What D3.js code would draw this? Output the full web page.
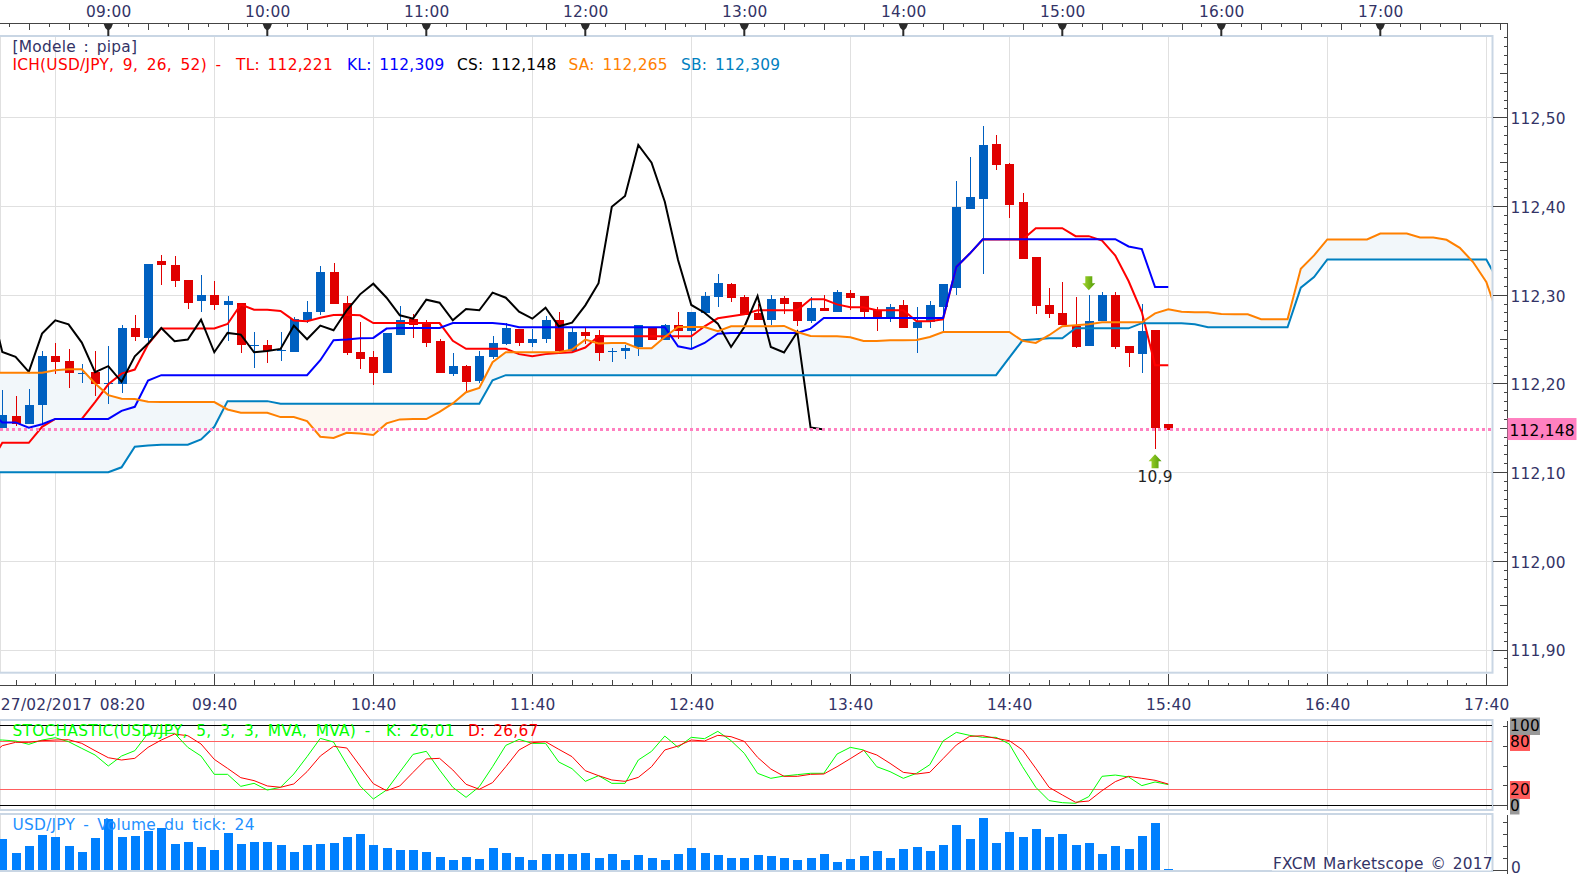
<!DOCTYPE html>
<html>
<head>
<meta charset="utf-8">
<script src="https://cdn.jsdelivr.net/npm/d3@7"></script>
<style>
html, body { margin: 0; padding: 0; background: #fff; overflow: hidden; }
text { font-family: "DejaVu Sans", sans-serif; font-size: 15.4px; letter-spacing: 0.25px; word-spacing: 2.5px; }
</style>
</head>
<body>
<script>
// USD/JPY m5 27/02/2017
var candleOpen = [
112.150,112.163,112.154,112.176,112.231,112.225,112.2115,112.2126,112.199,112.1995,
112.262,112.251,112.3375,112.334,112.317,112.2925,112.300,112.288,112.291,112.2425,
112.243,112.2365,112.235,112.272,112.280,112.326,112.291,112.235,112.2295,112.2115,
112.255,112.273,112.268,112.2475,112.2104,112.2194,112.2025,112.2295,112.244,112.261,
112.245,112.250,112.272,112.236,112.2576,112.255,112.235,112.2366,112.2408,112.262,
112.2486,112.2655,112.2588,112.279,112.297,112.3116,112.297,112.279,112.272,112.296,
112.2914,112.270,112.2846,112.280,112.3015,112.298,112.2824,112.2734,112.288,112.263,
112.269,112.2858,112.308,112.397,112.4084,112.470,112.4478,112.404,112.342,112.288,
112.279,112.2644,112.2419,112.270,112.2993,112.2419,112.233,112.260,112.154];
var candleHigh = [
112.192,112.186,112.194,112.236,112.246,112.2385,112.2216,112.237,112.242,112.2655,
112.277,112.335,112.345,112.344,112.317,112.322,112.316,112.298,112.291,112.2575,
112.2486,112.2575,112.2745,112.2925,112.332,112.336,112.298,112.269,112.236,112.2565,
112.287,112.2786,112.272,112.250,112.234,112.2205,112.237,112.254,112.268,112.261,
112.261,112.2756,112.281,112.263,112.262,112.260,112.2396,112.243,112.2655,112.262,
112.2666,112.281,112.281,112.3026,112.323,112.3128,112.300,112.290,112.300,112.298,
112.2914,112.297,112.300,112.305,112.305,112.298,112.2858,112.290,112.2936,112.2858,
112.2925,112.3116,112.4286,112.4556,112.4905,112.480,112.449,112.415,112.342,112.308,
112.314,112.297,112.2993,112.3026,112.3026,112.2419,112.290,112.260,112.154];
var candleLow = [
112.148,112.152,112.154,112.153,112.211,112.195,112.200,112.186,112.177,112.189,
112.2475,112.245,112.3105,112.309,112.2835,112.280,112.2825,112.2475,112.234,112.217,
112.2228,112.225,112.235,112.268,112.277,112.290,112.232,112.216,112.198,112.2115,
112.255,112.251,112.241,112.2115,112.208,112.190,112.200,112.227,112.243,112.242,
112.2408,112.245,112.234,112.234,112.244,112.225,112.224,112.227,112.2306,112.2486,
112.2486,112.250,112.2385,112.279,112.2858,112.2914,112.2768,112.272,112.2655,112.278,
112.2644,112.2678,112.2813,112.280,112.2824,112.2734,112.2588,112.269,112.262,112.234,
112.263,112.2576,112.300,112.397,112.323,112.441,112.386,112.340,112.278,112.2734,
112.2655,112.240,112.2419,112.270,112.2385,112.2183,112.2115,112.126,112.1475];
var candleClose = [
112.164,112.154,112.176,112.231,112.224,112.2115,112.212,112.199,112.201,112.263,
112.252,112.335,112.334,112.316,112.291,112.300,112.288,112.2925,112.243,112.243,
112.236,112.2375,112.273,112.280,112.326,112.290,112.234,112.227,112.2115,112.2565,
112.271,112.2655,112.246,112.2115,112.2194,112.2014,112.2306,112.245,112.262,112.246,
112.250,112.272,112.236,112.2576,112.253,112.234,112.2365,112.2396,112.2655,112.2486,
112.2655,112.2588,112.281,112.299,112.313,112.296,112.2768,112.272,112.2948,112.289,
112.270,112.2846,112.2813,112.3026,112.296,112.280,112.2734,112.2858,112.263,112.269,
112.288,112.3116,112.3994,112.4106,112.469,112.4466,112.4016,112.340,112.287,112.278,
112.2655,112.2408,112.270,112.2993,112.2408,112.234,112.2588,112.1496,112.148];

// ichimoku lines start one bar before the first candle (08:15)
var tenkan = [112.107,
112.133,112.133,112.133,112.151,112.16,112.16,112.16,112.179,112.199,112.211,
112.2156,112.244,112.262,112.262,112.262,112.262,112.262,112.267,112.289,112.283,
112.283,112.2816,112.271,112.27,112.274,112.277,112.2775,112.2768,112.268,112.268,
112.268,112.268,112.268,112.268,112.248,112.239,112.239,112.239,112.239,112.233,
112.2306,112.233,112.2344,112.235,112.2404,112.2531,112.2531,112.2531,112.2531,112.2531,
112.2531,112.2531,112.2531,112.2644,112.2734,112.2756,112.278,112.2824,112.2824,112.2824,
112.2824,112.2948,112.2948,112.2891,112.2858,112.2858,112.2824,112.2824,112.2824,112.27,
112.27,112.2722,112.3311,112.3461,112.3622,112.3622,112.3622,112.3622,112.375,112.375,
112.375,112.366,112.366,112.3611,112.3442,112.3154,112.2805,112.2205,112.2205];
var kijun = [112.17,
112.156,112.156,112.15,112.154,112.16,112.16,112.16,112.16,112.16,112.169,
112.1736,112.2033,112.2093,112.2093,112.2093,112.2093,112.2093,112.2093,112.2093,112.2093,
112.2093,112.2093,112.2093,112.2093,112.2261,112.2486,112.2494,112.2509,112.2513,112.2618,
112.2625,112.2625,112.2625,112.2625,112.268,112.268,112.268,112.268,112.2666,112.2633,
112.2633,112.2633,112.2633,112.2633,112.2633,112.2633,112.2633,112.2633,112.2633,112.2633,
112.2633,112.2419,112.2389,112.2456,112.2561,112.2569,112.2569,112.2569,112.2569,112.2569,
112.2569,112.2618,112.2738,112.2738,112.2738,112.2738,112.2738,112.2738,112.2738,112.2738,
112.2738,112.2738,112.3311,112.3461,112.3626,112.3626,112.3626,112.3626,112.3626,112.3626,
112.3626,112.3626,112.3626,112.3626,112.3626,112.3544,112.3514,112.3086,112.3086];
var chikou = [112.2955,
112.2355,112.2299,112.213,112.2561,112.2711,112.2666,112.246,112.2126,112.2194,112.2018,
112.2306,112.2449,112.2625,112.2475,112.2494,112.2719,112.2351,112.2569,112.255,112.2351,
112.2366,112.2389,112.2651,112.2498,112.2651,112.2599,112.2824,112.3004,112.3124,112.2966,
112.2768,112.273,112.2944,112.291,112.2711,112.2839,112.2824,112.3023,112.2966,112.2809,
112.273,112.2854,112.2644,112.2685,112.288,112.3129,112.3992,112.4113,112.4688,112.4489,
112.4049,112.3391,112.2884,112.2797,112.2674,112.2411,112.2636,112.2985,112.2411,112.2348,
112.258,112.1504,112.148];
var spanA = [112.2119,
112.2119,112.2119,112.2119,112.2119,112.2149,112.216,112.216,112.1999,112.1868,112.1826,
112.1823,112.1793,112.1789,112.1789,112.1789,112.1789,112.1789,112.1706,112.1669,112.1669,
112.1669,112.162,112.162,112.1575,112.1399,112.1384,112.1444,112.1436,112.1418,112.1549,
112.1594,112.1598,112.1598,112.168,112.1774,112.1901,112.195,112.2239,112.2351,112.2351,
112.2351,112.2351,112.2351,112.2381,112.2494,112.2449,112.2456,112.2456,112.2396,112.2396,
112.2524,112.2636,112.2636,112.2636,112.2588,112.2644,112.2644,112.2644,112.2644,112.2648,
112.258,112.2535,112.2531,112.2531,112.252,112.2479,112.2479,112.2486,112.2486,112.249,
112.2524,112.258,112.258,112.258,112.258,112.258,112.258,112.2479,112.2456,112.2543,
112.2644,112.2655,112.2666,112.2689,112.2689,112.2689,112.2689,112.279,112.2835,112.2809,
112.2801,112.2801,112.2783,112.2779,112.2779,112.2723,112.2723,112.2723,112.3293,112.3443,
112.3623,112.3623,112.3623,112.3623,112.369,112.369,112.369,112.3645,112.3645,112.3619,
112.3529,112.3368,112.3143,112.2711];
var spanB = [112.0998,
112.0998,112.0998,112.0998,112.0998,112.0998,112.0998,112.0998,112.0998,112.0998,112.1054,
112.1286,112.1301,112.1309,112.1309,112.1309,112.1369,112.1511,112.18,112.18,112.18,
112.18,112.177,112.177,112.177,112.177,112.177,112.177,112.177,112.177,112.177,
112.177,112.177,112.177,112.177,112.177,112.177,112.177,112.2036,112.2093,112.2093,
112.2093,112.2093,112.2093,112.2093,112.2093,112.2093,112.2093,112.2093,112.2093,112.2093,
112.2093,112.2093,112.2093,112.2093,112.2093,112.2093,112.2093,112.2093,112.2093,112.2093,
112.2093,112.2093,112.2093,112.2093,112.2093,112.2093,112.2093,112.2093,112.2093,112.2093,
112.2093,112.2093,112.2093,112.2093,112.2093,112.2093,112.2291,112.2486,112.2498,112.2509,
112.2509,112.2621,112.2621,112.2621,112.2621,112.2621,112.2679,112.2679,112.2679,112.2679,
112.2666,112.2633,112.2633,112.2633,112.2633,112.2633,112.2633,112.2633,112.3079,112.3199,
112.3398,112.3398,112.3398,112.3398,112.3398,112.3398,112.3398,112.3398,112.3398,112.3398,
112.3398,112.3398,112.3398,112.3124];

// stochastic, same offset as the ichimoku lines
var stochK = [82,
82,80.8,76.6,82,84.9,79.9,71.5,63.2,49.4,61.9,
68.6,90.4,90.4,90.4,72.8,61.9,38.9,38.9,23.8,27.6,
19.2,22.6,39.3,61.1,84.1,79.5,51.5,24.3,7.9,19.2,
41.8,64,67.8,44.4,22.6,10,23.4,48.5,75.3,82.8,
77.8,77.8,54.4,46,30.1,37.2,27.6,27.6,56.9,67.8,
87,72.8,85.4,83.7,92.9,81.2,65.3,40.2,33.9,36.8,
38.5,40.2,40.2,64.4,72.8,69.5,48.5,42.3,33.9,40.2,
51,80.8,91.6,87.9,85.4,85.4,77,48.5,22.6,5.9,
3.3,2.5,10.9,36.4,38,35.6,24.7,29.3,26.01];
var stochD = [61,
74.9,79.1,79.1,81.2,82,82.4,77.8,68.6,59.8,56.9,
59,72.8,82,89.5,87.4,77,57.7,46.4,34.7,31,
24.3,22.6,26.8,42.3,61.9,74.1,72,49.4,27.2,18.4,
24.3,41.4,58.2,59,44.4,26.4,20.1,28.5,48.5,69.5,
78.7,79.9,70.3,61.1,43.5,37.2,31.8,30.1,35.1,48.5,
69.5,74.5,82,80.8,87.9,86.2,80.3,60.3,45.6,36.4,
36.4,38.9,39.3,48.5,58.6,69,63.2,52.7,41.4,39.3,
41.4,58.6,75.7,86.6,87.4,84.1,81.2,69.5,46.4,22.6,
13,3.8,5.4,18.4,29.7,36.4,33.9,31.4,26.67];
var tickVolume = [
775,425,600,875,825,600,450,800,1275,825,
850,975,1050,650,700,575,500,925,650,700,
700,625,450,625,650,675,825,900,625,550,
500,500,450,325,250,325,275,550,425,325,
250,400,400,400,425,300,400,250,375,300,
250,400,550,425,375,300,300,375,350,300,
250,300,400,200,275,350,475,300,525,575,
475,625,1125,775,1300,675,950,825,1025,825,
900,625,675,400,600,525,850,1175,24];

var priceTicks = [112.5,112.4,112.3,112.2,112.1,112.0,111.9];
var stochLevels = [100,80,20,0];
var lastPrice = 112.148;

var w = 1589, h = 874;
var frameRight = 1492.5, axisRight = 1507.5;

var svg = d3.select("body").append("svg").attr("width", w).attr("height", h);

var t0 = new Date(2017, 1, 27, 8, 20);
function barTime(i) { return d3.timeMinute.offset(t0, 5 * i); }
function at(hour, minute) { return new Date(2017, 1, 27, hour, minute); }

var x = d3.scaleTime().domain([t0, at(17, 40)]).range([2.3, 1486.3]);
var y = d3.scaleLinear().domain([111.9, 112.5]).range([649.5, 117.3]);
var yStoch = d3.scaleLinear().domain([0, 100]).range([805.3, 725.7]);
var yVol = d3.scaleLinear().domain([0, 1300]).range([870, 818]);

var frToFixed = function(n, p) { return d3.format("." + p + "f")(n).replace(".", ","); };

var defs = svg.append("defs");
defs.append("clipPath").attr("id", "plot").append("rect")
    .attr("x", 0).attr("y", 36).attr("width", frameRight - 1).attr("height", 637);
var grad = defs.append("linearGradient").attr("id", "arrowGreen").attr("x1", 0).attr("x2", 1).attr("y1", 0).attr("y2", 0);
grad.append("stop").attr("offset", "0%").attr("stop-color", "#a8d830");
grad.append("stop").attr("offset", "100%").attr("stop-color", "#4e9a06");

// grid
var hourly = d3.range(0, 10).map(function(k) { return at(8 + k, 40); });
var gridColor = "#e0e0e0";
var grid = svg.append("g").attr("shape-rendering", "crispEdges").attr("stroke", gridColor);
[[37, 672], [721, 809], [815, 870]].forEach(function(span) {
    grid.append("g").selectAll("line").data(hourly).join("line")
        .attr("x1", function(d) { return Math.round(x(d)) + 0.5; })
        .attr("x2", function(d) { return Math.round(x(d)) + 0.5; })
        .attr("y1", span[0]).attr("y2", span[1]);
    grid.append("line").attr("x1", 0.5).attr("x2", 0.5).attr("y1", span[0]).attr("y2", span[1]);
});
grid.append("g").selectAll("line").data(priceTicks).join("line")
    .attr("x1", 0).attr("x2", frameRight)
    .attr("y1", function(d) { return Math.round(y(d)) + 0.5; })
    .attr("y2", function(d) { return Math.round(y(d)) + 0.5; });

// cloud
var plot = svg.append("g").attr("clip-path", "url(#plot)");
var lineX = function(d, i) { return x(barTime(i - 1)); };
var cloudData = spanA.map(function(a, i) { return { a: a, b: spanB[i] }; });
plot.append("path").datum(cloudData).attr("fill", "#f2f7fa")
    .attr("d", d3.area().x(lineX)
        .y0(function(d) { return y(d.b); })
        .y1(function(d) { return y(Math.max(d.a, d.b)); }));
plot.append("path").datum(cloudData).attr("fill", "#fdf7f0")
    .attr("d", d3.area().x(lineX)
        .y0(function(d) { return y(d.b); })
        .y1(function(d) { return y(Math.min(d.a, d.b)); }));

// candles
var upColor = "#0060c0", downColor = "#e00000";
var bars = candleOpen.map(function(o, i) {
    return { i: i, o: o, h: candleHigh[i], l: candleLow[i], c: candleClose[i] };
});
var candles = plot.append("g").attr("shape-rendering", "crispEdges");
candles.selectAll("line").data(bars).join("line")
    .attr("x1", function(d) { return Math.round(x(barTime(d.i))) + 0.5; })
    .attr("x2", function(d) { return Math.round(x(barTime(d.i))) + 0.5; })
    .attr("y1", function(d) { return y(d.h); })
    .attr("y2", function(d) { return y(d.l); })
    .attr("stroke", function(d) { return d.c >= d.o ? upColor : downColor; });
candles.selectAll("rect").data(bars).join("rect")
    .attr("x", function(d) { return Math.round(x(barTime(d.i))) - 4; })
    .attr("width", 9)
    .attr("y", function(d) { return y(Math.max(d.o, d.c)); })
    .attr("height", function(d) { return Math.max(1, Math.abs(y(d.o) - y(d.c))); })
    .attr("fill", function(d) { return d.c >= d.o ? upColor : downColor; });

// ichimoku
var priceLine = d3.line().x(lineX).y(function(d) { return y(d); });
[[tenkan, "#ff0000"], [kijun, "#0000ff"], [chikou, "#000000"], [spanB, "#0080c0"], [spanA, "#ff8000"]].forEach(function(s) {
    plot.append("path").datum(s[0]).attr("fill", "none")
        .attr("stroke", s[1]).attr("stroke-width", 2).attr("d", priceLine);
});
plot.append("line").attr("x1", 0).attr("x2", frameRight)
    .attr("y1", y(lastPrice)).attr("y2", y(lastPrice))
    .attr("stroke", "#ff80c0").attr("stroke-width", 3).attr("stroke-dasharray", "3,3");

// signal arrows
var downArrow = "M-3.5,0H3.5V7H6.5L0,14L-6.5,7H-3.5Z";
var upArrow = "M-3.5,14H3.5V7H6.5L0,0L-6.5,7H-3.5Z";
plot.append("path").attr("d", downArrow).attr("fill", "url(#arrowGreen)")
    .attr("transform", "translate(" + x(barTime(82)) + "," + (y(112.305) - 14) + ")");
plot.append("path").attr("d", upArrow).attr("fill", "url(#arrowGreen)")
    .attr("transform", "translate(" + x(barTime(87)) + "," + y(112.12) + ")");
svg.append("text").attr("x", x(barTime(87))).attr("y", 481.5).attr("text-anchor", "middle")
    .attr("fill", "#222").text("10,9");

// frames
var frameColor = "#c9d6e4";
[[36, 672.7], [720, 810], [814, 871]].forEach(function(f) {
    svg.append("rect").attr("x", -3).attr("y", f[0]).attr("width", frameRight + 3).attr("height", f[1] - f[0])
        .attr("fill", "none").attr("stroke", frameColor).attr("stroke-width", 2);
});

// legends main
var labelColor = "#333366";
svg.append("text").attr("x", 12.5).attr("y", 51.5).attr("fill", labelColor).text("[Modele : pipa]");
[["ICH(USD/JPY, 9, 26, 52) -", 12.5, "#ff0000", 3.5],
 ["TL: 112,221", 236, "#ff0000", 2.5],
 ["KL: 112,309", 347, "#0000ff", 2.5],
 ["CS: 112,148", 457, "#000000", 2.5],
 ["SA: 112,265", 568.5, "#ff8000", 2.5],
 ["SB: 112,309", 681, "#0080c0", 2.5]].forEach(function(t) {
    svg.append("text").attr("x", t[1]).attr("y", 69.5).attr("fill", t[2]).style("word-spacing", t[3] + "px").text(t[0]);
});

// top axis
function axisInk(g) {
    g.select(".domain").remove();
    g.selectAll("line").attr("stroke", "#444").attr("shape-rendering", "crispEdges");
    g.selectAll("text").attr("fill", labelColor).style("font-family", "DejaVu Sans").style("font-size", "15.4px");
}
var stepTimes = function(from, n) {
    return d3.range(n).map(function(k) { return d3.timeSecond.offset(from, 450 * k); });
};
var topMarks = stepTimes(at(8, 15), 78).filter(function(d) { return x(d) < axisRight; });
var isEven = function(from) {
    return function(d) { return Math.round((d - from) / 450000) % 2 === 0; };
};
svg.append("g").attr("transform", "translate(0,23.5)")
    .call(d3.axisBottom(x).tickValues(topMarks.filter(function(d) { return !isEven(at(9, 0))(d); })).tickSize(3).tickFormat(""))
    .call(axisInk);
svg.append("g").attr("transform", "translate(0,23.5)")
    .call(d3.axisBottom(x).tickValues(topMarks.filter(isEven(at(9, 0)))).tickSize(6.5).tickFormat(""))
    .call(axisInk);
var hourLabels = d3.range(9, 18).map(function(k) { return at(k, 0); });
svg.append("g").attr("transform", "translate(0,17)")
    .call(d3.axisTop(x).tickValues(hourLabels).tickSize(0).tickPadding(0).tickFormat(d3.timeFormat("%H:%M")))
    .call(axisInk);
svg.append("g").selectAll("path").data(hourLabels).join("path")
    .attr("transform", function(d) { return "translate(" + x(d) + ",23)"; })
    .attr("d", "M-5,0H5L3,5L1,7V13H-1V7L-3,5Z").attr("fill", "#2b2b2b");

// bottom axis
var bottomMarks = stepTimes(at(8, 25), 75).filter(function(d) { return x(d) < axisRight; });
var fromGrid = function(d) { return Math.round((d - at(8, 40)) / 450000); };
[[function(k) { return Math.abs(k % 2) === 1; }, 3],
 [function(k) { return k % 2 === 0 && k % 8 !== 0; }, 6],
 [function(k) { return k % 8 === 0; }, 12]].forEach(function(m) {
    svg.append("g").attr("transform", "translate(0,685.5)")
        .call(d3.axisTop(x).tickValues(bottomMarks.filter(function(d) { return m[0](fromGrid(d)); })).tickSize(m[1]).tickFormat(""))
        .call(axisInk);
});
var bottomLabels = [t0].concat(hourly.slice(1));
svg.append("g").attr("transform", "translate(0,685.5)")
    .call(d3.axisBottom(x).tickValues(bottomLabels).tickSize(0)
        .tickFormat(function(d) { return +d === +t0 ? "27/02/2017 08:20" : d3.timeFormat("%H:%M")(d); }))
    .call(axisInk)
    .call(function(g) {
        g.selectAll("text").attr("y", 24.5).attr("dy", 0);
        g.selectAll(".tick").filter(function(d) { return +d === +t0; }).select("text")
            .attr("text-anchor", "start").attr("x", -2);
    });

// price axis
var priceMinor = d3.range(11188, 11260).map(function(k) { return k / 100; });
[[function(k) { return k % 5 !== 0; }, 4],
 [function(k) { return k % 5 === 0 && k % 10 !== 0; }, 7.5],
 [function(k) { return k % 10 === 0; }, 15]].forEach(function(m) {
    svg.append("g").attr("transform", "translate(" + axisRight + ",0)")
        .call(d3.axisLeft(y).tickValues(priceMinor.filter(function(p) { return m[0](Math.round(p * 100)); })).tickSize(m[1]).tickFormat(""))
        .call(axisInk);
});
svg.append("g").attr("transform", "translate(" + (axisRight + 3) + ",1.5)")
    .call(d3.axisRight(y).tickValues(priceTicks).tickSize(0).tickPadding(0)
        .tickFormat(function(d) { return frToFixed(d, 2); }))
    .call(axisInk);

svg.append("path").attr("fill", "none").attr("stroke", "#444").attr("shape-rendering", "crispEdges")
    .attr("d", d3.line()([[0, 23.5], [axisRight, 23.5], [axisRight, 685.5], [0, 685.5]]));

// last price tag
svg.append("rect").attr("x", axisRight).attr("y", y(lastPrice) - 11.5).attr("width", 69).attr("height", 22).attr("fill", "#ff80c0");
svg.append("text").attr("x", axisRight + 2).attr("y", y(lastPrice) + 6).attr("fill", "#000").text(frToFixed(lastPrice, 3));

// stochastic
var levelStyle = { 100: ["#000000", 1.5], 80: ["#ff6060", 1], 20: ["#ff6060", 1], 0: ["#000000", 1.5] };
svg.append("g").attr("shape-rendering", "crispEdges").selectAll("line").data(stochLevels).join("line")
    .attr("x1", 0).attr("x2", frameRight - 1)
    .attr("y1", function(d) { return yStoch(d); }).attr("y2", function(d) { return yStoch(d); })
    .attr("stroke", function(d) { return levelStyle[d][0]; })
    .attr("stroke-width", function(d) { return levelStyle[d][1]; });
var stochLine = d3.line().x(lineX).y(function(d) { return yStoch(d); });
svg.append("path").datum(stochK).attr("fill", "none").attr("stroke", "#00ff00").attr("stroke-width", 1).attr("d", stochLine);
svg.append("path").datum(stochD).attr("fill", "none").attr("stroke", "#ff0000").attr("stroke-width", 1).attr("d", stochLine);

svg.append("text").attr("x", 12.5).attr("y", 736).attr("fill", "#00ff00").style("word-spacing", "3.5px").text("STOCHASTIC(USD/JPY, 5, 3, 3, MVA, MVA) -");
svg.append("text").attr("x", 386).attr("y", 736).attr("fill", "#00ff00").text("K: 26,01");
svg.append("text").attr("x", 468).attr("y", 736).attr("fill", "#ff0000").text("D: 26,67");

svg.append("g").attr("transform", "translate(" + axisRight + ",0)")
    .call(d3.axisLeft(yStoch).tickValues([25, 50, 75, 100]).tickSize(5).tickFormat(""))
    .call(axisInk);
svg.append("g").attr("transform", "translate(" + axisRight + ",0)")
    .call(d3.axisLeft(yStoch).tickValues([0]).tickSize(15).tickFormat(""))
    .call(axisInk);
svg.append("line").attr("x1", axisRight).attr("x2", axisRight).attr("y1", 721).attr("y2", 810)
    .attr("stroke", "#444").attr("shape-rendering", "crispEdges");
var tagColor = { 100: "#999999", 80: "#ff5c5c", 20: "#ff5c5c", 0: "#999999" };
var tagWidth = { 100: 30, 80: 20, 20: 20, 0: 9.5 };
var tagTop = { 100: 717.5, 80: 735, 20: 781, 0: 798.5 };
var tags = svg.append("g").selectAll("g").data(stochLevels).join("g");
tags.append("rect").attr("x", 1510).attr("y", function(d) { return tagTop[d]; })
    .attr("width", function(d) { return tagWidth[d]; })
    .attr("height", function(d) { return d === 100 ? 17.5 : 16 + (d === 20 ? 2 : 0); })
    .attr("fill", function(d) { return tagColor[d]; });
tags.append("text").attr("x", 1510).attr("y", function(d) { return yStoch(d) + 5.5; })
    .attr("fill", "#000").text(function(d) { return d; });

// tick volume
svg.append("g").selectAll("rect").data(tickVolume).join("rect")
    .attr("shape-rendering", "crispEdges")
    .attr("x", function(d, i) { return Math.round(x(barTime(i))) - 4; })
    .attr("width", 9)
    .attr("y", function(d) { return yVol(d); })
    .attr("height", function(d) { return yVol(0) - yVol(d); })
    .attr("fill", "#0080ff");
svg.append("text").attr("x", 12.5).attr("y", 830).attr("fill", "#1e90ff").style("word-spacing", "3px").text("USD/JPY - Volume du tick: 24");

svg.append("g").attr("transform", "translate(" + axisRight + ",0)")
    .call(d3.axisLeft(yVol).tickValues([300, 600, 900, 1200]).tickSize(5).tickFormat(""))
    .call(axisInk);
svg.append("g").attr("transform", "translate(" + axisRight + ",0)")
    .call(d3.axisLeft(yVol).tickValues([0]).tickSize(15).tickFormat(""))
    .call(axisInk);
svg.append("line").attr("x1", axisRight).attr("x2", axisRight).attr("y1", 815).attr("y2", 874)
    .attr("stroke", "#444").attr("shape-rendering", "crispEdges");
svg.append("text").attr("x", 1511).attr("y", 873).attr("fill", labelColor).text("0");

svg.append("rect").attr("x", 1272).attr("y", 855).attr("width", 219).attr("height", 15.5).attr("fill", "#fff");
svg.append("text").attr("x", 1273).attr("y", 868.5).attr("fill", labelColor).style("word-spacing", "1.5px").text("FXCM Marketscope © 2017");
</script>
</body>
</html>
